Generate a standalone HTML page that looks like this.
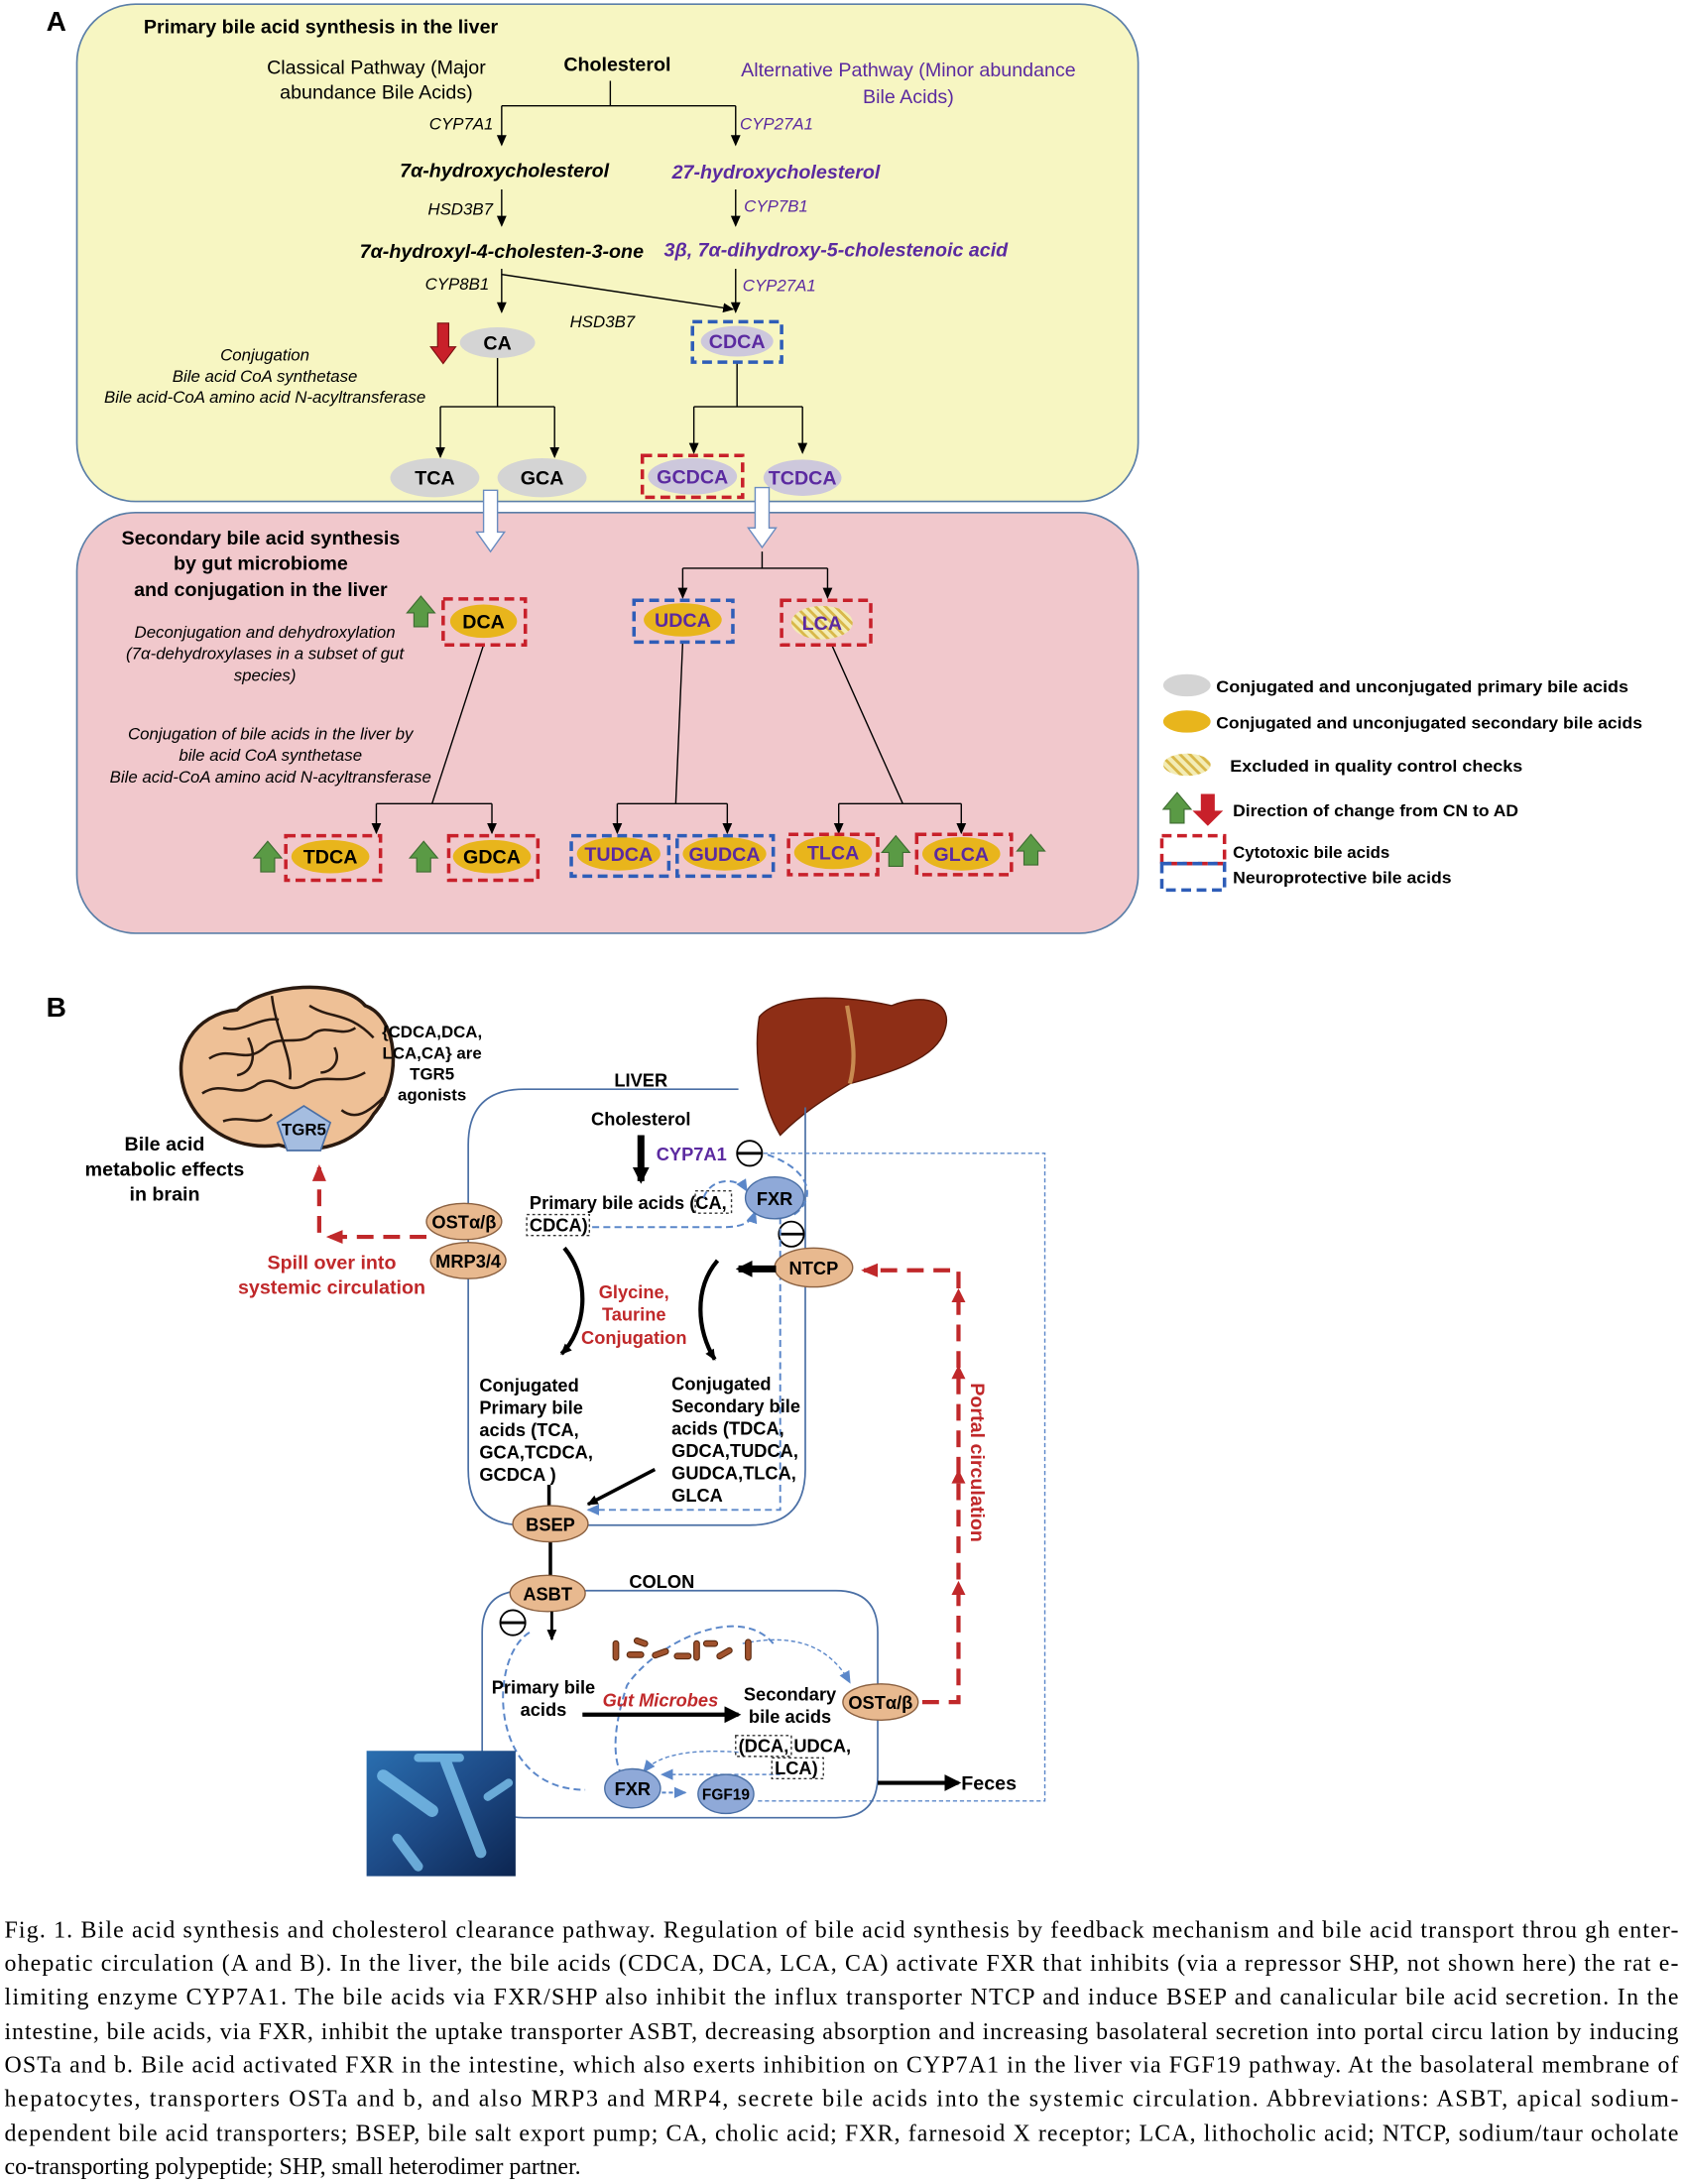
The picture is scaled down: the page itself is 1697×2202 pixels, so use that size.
<!DOCTYPE html>
<html><head><meta charset="utf-8"><style>
html,body{margin:0;padding:0;background:#fff}
svg{display:block}
text{font-family:"Liberation Sans",sans-serif}
.b{font-weight:bold}
.i{font-style:italic}
.p{fill:#5b2aa0}
.r{fill:#c0282a}
.cap text{font-family:"Liberation Serif",serif;font-size:17px}
</style></head><body>
<svg width="1697" height="2202" viewBox="0 0 1208 1568" xmlns="http://www.w3.org/2000/svg">
<defs>
<marker id="ah" markerWidth="8" markerHeight="8" refX="7" refY="4" orient="auto" markerUnits="userSpaceOnUse"><path d="M0,0.5 L8,4 L0,7.5z" fill="#000"/></marker>
<marker id="ahb" markerWidth="12" markerHeight="12" refX="10" refY="6" orient="auto" markerUnits="userSpaceOnUse"><path d="M0,0 L12,6 L0,12z" fill="#000"/></marker>
<marker id="ahr" markerWidth="12" markerHeight="12" refX="10" refY="6" orient="auto" markerUnits="userSpaceOnUse"><path d="M0,1 L12,6 L0,11z" fill="#c0282a"/></marker>
<marker id="ahl" markerWidth="9" markerHeight="9" refX="8" refY="4.5" orient="auto" markerUnits="userSpaceOnUse"><path d="M0,0.5 L9,4.5 L0,8.5z" fill="#5b87c9"/></marker>
<pattern id="hatch" width="5" height="5" patternUnits="userSpaceOnUse" patternTransform="rotate(-45)"><rect width="5" height="5" fill="#f3ecb5"/><rect width="2" height="5" fill="#d9b84a"/></pattern>
<g id="gup"><path d="M-5,10 L-5,0 L-10,0 L0,-12 L10,0 L5,0 L5,10z" fill="#5a9a45" stroke="#3d6b30" stroke-width="0.8"/></g>
<linearGradient id="bac" x1="0" y1="0" x2="1" y2="1"><stop offset="0" stop-color="#2a6fb0"/><stop offset="0.5" stop-color="#1d4a86"/><stop offset="1" stop-color="#0c2550"/></linearGradient>
</defs>

<!-- PANEL A -->
<text x="33" y="22" class="b" font-size="20">A</text>
<rect x="55" y="3" width="762" height="357" rx="42" fill="#f7f6c2" stroke="#5b7fa8" stroke-width="1.2"/>
<rect x="55" y="368" width="762" height="302" rx="42" fill="#f1c8cc" stroke="#5b7fa8" stroke-width="1.2"/>
<text x="103" y="24" class="b" font-size="14">Primary bile acid synthesis in the liver</text>
<g font-size="14" text-anchor="middle">
<text x="270" y="53">Classical Pathway (Major</text>
<text x="270" y="71">abundance Bile Acids)</text>
<text x="443" y="51" class="b">Cholesterol</text>
<text x="652" y="55" class="p">Alternative Pathway (Minor abundance</text>
<text x="652" y="74" class="p">Bile Acids)</text>
</g>
<g stroke="#000" stroke-width="1" fill="none">
<path d="M438,58 V76 M360,76 H528"/>
<path d="M360,76 V104" marker-end="url(#ah)"/><path d="M528,76 V104" marker-end="url(#ah)"/>
<path d="M360,136 V162" marker-end="url(#ah)"/><path d="M528,136 V162" marker-end="url(#ah)"/>
<path d="M360,193 V224" marker-end="url(#ah)"/><path d="M528,193 V224" marker-end="url(#ah)"/>
<path d="M360,197 L526,222" marker-end="url(#ah)"/>
<path d="M357,257 V292 M316,292 H398"/>
<path d="M316,292 V328" marker-end="url(#ah)"/><path d="M398,292 V328" marker-end="url(#ah)"/>
<path d="M529,260 V292 M498,292 H576"/>
<path d="M498,292 V325" marker-end="url(#ah)"/><path d="M576,292 V325" marker-end="url(#ah)"/>
</g>
<g font-size="12" class="i">
<text x="308" y="93">CYP7A1</text><text x="531" y="93" class="p">CYP27A1</text>
<text x="307" y="154">HSD3B7</text><text x="534" y="152" class="p">CYP7B1</text>
<text x="305" y="208">CYP8B1</text><text x="533" y="209" class="p">CYP27A1</text>
<text x="409" y="235">HSD3B7</text>
</g>
<g font-size="14" class="b i" text-anchor="middle">
<text x="362" y="127">7α-hydroxycholesterol</text>
<text x="557" y="128" class="p">27-hydroxycholesterol</text>
<text x="360" y="185">7α-hydroxyl-4-cholesten-3-one</text>
<text x="600" y="184" class="p">3β, 7α-dihydroxy-5-cholestenoic acid</text>
</g>
<g font-size="12" class="i" text-anchor="middle">
<text x="190" y="259">Conjugation</text>
<text x="190" y="274">Bile acid CoA synthetase</text>
<text x="190" y="289">Bile acid-CoA amino acid N-acyltransferase</text>
<text x="190" y="458">Deconjugation and dehydroxylation</text>
<text x="190" y="473">(7α-dehydroxylases in a subset of gut</text>
<text x="190" y="489">species)</text>
<text x="194" y="531">Conjugation of bile acids in the liver by</text>
<text x="194" y="546">bile acid CoA synthetase</text>
<text x="194" y="562">Bile acid-CoA amino acid N-acyltransferase</text>
</g>
<path d="M314,232 V249 H309 L318,261 L327,249 H322 V232z" fill="#c8202a" stroke="#7a1010" stroke-width="0.8"/>
<ellipse cx="357" cy="246" rx="27" ry="11" fill="#d4d4d4"/>
<text x="357" y="251" class="b" font-size="14" text-anchor="middle">CA</text>
<ellipse cx="529" cy="245" rx="26" ry="11" fill="#cdc8dc"/>
<rect x="497" y="231" width="64" height="29" fill="none" stroke="#2e5db8" stroke-width="2.5" stroke-dasharray="7,4"/>
<text x="529" y="250" class="b p" font-size="14" text-anchor="middle">CDCA</text>
<ellipse cx="312" cy="343" rx="32" ry="14" fill="#d4d4d4"/><text x="312" y="348" class="b" font-size="14" text-anchor="middle">TCA</text>
<ellipse cx="389" cy="343" rx="32" ry="14" fill="#d4d4d4"/><text x="389" y="348" class="b" font-size="14" text-anchor="middle">GCA</text>
<ellipse cx="497" cy="342" rx="32" ry="13" fill="#cdc8dc"/>
<rect x="461" y="327" width="72" height="30" fill="none" stroke="#c8202a" stroke-width="2.5" stroke-dasharray="7,4"/>
<text x="497" y="347" class="b p" font-size="14" text-anchor="middle">GCDCA</text>
<ellipse cx="576" cy="343" rx="28" ry="13" fill="#cdc8dc"/><text x="576" y="348" class="b p" font-size="14" text-anchor="middle">TCDCA</text>
<path d="M347,352 V382 H342 L352,396 L362,382 H357 V352z" fill="#fff" stroke="#6a8cc0" stroke-width="1"/>
<path d="M542,350 V379 H537 L547,393 L557,379 H552 V350z" fill="#fff" stroke="#6a8cc0" stroke-width="1"/>

<g font-size="14" class="b" text-anchor="middle">
<text x="187" y="391">Secondary bile acid synthesis</text>
<text x="187" y="409">by gut microbiome</text>
<text x="187" y="428">and conjugation in the liver</text>
</g>
<g stroke="#000" stroke-width="1" fill="none">
<path d="M547,396 V408 M490,408 H594"/>
<path d="M490,408 V429" marker-end="url(#ah)"/><path d="M594,408 V429" marker-end="url(#ah)"/>
<path d="M347,463 L310,577 M270,577 H353"/>
<path d="M270,577 V598" marker-end="url(#ah)"/><path d="M353,577 V598" marker-end="url(#ah)"/>
<path d="M490,461 L485,577 M443,577 H522"/>
<path d="M443,577 V598" marker-end="url(#ah)"/><path d="M522,577 V598" marker-end="url(#ah)"/>
<path d="M597,463 L648,577 M602,577 H690"/>
<path d="M602,577 V598" marker-end="url(#ah)"/><path d="M690,577 V598" marker-end="url(#ah)"/>
</g>
<g font-size="14" class="b" text-anchor="middle">
<use href="#gup" x="302" y="440"/>
<ellipse cx="347" cy="446" rx="24" ry="12" fill="#e8b51c"/>
<rect x="318" y="430" width="59" height="33" fill="none" stroke="#c8202a" stroke-width="2.5" stroke-dasharray="7,4"/>
<text x="347" y="451">DCA</text>
<ellipse cx="490" cy="445" rx="28" ry="12" fill="#e8b51c"/>
<rect x="455" y="431" width="71" height="30" fill="none" stroke="#2e5db8" stroke-width="2.5" stroke-dasharray="7,4"/>
<text x="490" y="450" class="p">UDCA</text>
<ellipse cx="590" cy="447" rx="22" ry="12" fill="url(#hatch)"/>
<rect x="561" y="431" width="64" height="32" fill="none" stroke="#c8202a" stroke-width="2.5" stroke-dasharray="7,4"/>
<text x="590" y="452" class="p">LCA</text>
<use href="#gup" x="192" y="616"/>
<ellipse cx="237" cy="615" rx="28" ry="12" fill="#e8b51c"/>
<rect x="205" y="600" width="68" height="32" fill="none" stroke="#c8202a" stroke-width="2.5" stroke-dasharray="7,4"/>
<text x="237" y="620">TDCA</text>
<use href="#gup" x="304" y="616"/>
<ellipse cx="353" cy="615" rx="28" ry="12" fill="#e8b51c"/>
<rect x="322" y="600" width="64" height="32" fill="none" stroke="#c8202a" stroke-width="2.5" stroke-dasharray="7,4"/>
<text x="353" y="620">GDCA</text>
<ellipse cx="444" cy="613" rx="30" ry="12" fill="#e8b51c"/>
<rect x="410" y="600" width="70" height="29" fill="none" stroke="#2e5db8" stroke-width="2.5" stroke-dasharray="7,4"/>
<text x="444" y="618" class="p">TUDCA</text>
<ellipse cx="520" cy="613" rx="30" ry="12" fill="#e8b51c"/>
<rect x="486" y="600" width="69" height="29" fill="none" stroke="#2e5db8" stroke-width="2.5" stroke-dasharray="7,4"/>
<text x="520" y="618" class="p">GUDCA</text>
<ellipse cx="598" cy="612" rx="28" ry="12" fill="#e8b51c"/>
<rect x="566" y="599" width="64" height="29" fill="none" stroke="#c8202a" stroke-width="2.5" stroke-dasharray="7,4"/>
<text x="598" y="617" class="p">TLCA</text>
<use href="#gup" x="643" y="612"/>
<ellipse cx="690" cy="613" rx="28" ry="12" fill="#e8b51c"/>
<rect x="658" y="599" width="68" height="29" fill="none" stroke="#c8202a" stroke-width="2.5" stroke-dasharray="7,4"/>
<text x="690" y="618" class="p">GLCA</text>
<use href="#gup" x="740" y="611"/>
</g>

<g font-size="12" class="b">
<ellipse cx="852" cy="492" rx="17" ry="8" fill="#d4d4d4"/>
<text x="873" y="497" textLength="296" lengthAdjust="spacingAndGlyphs">Conjugated  and unconjugated primary  bile acids</text>
<ellipse cx="852" cy="518" rx="17" ry="8" fill="#e8b51c"/>
<text x="873" y="523" textLength="306" lengthAdjust="spacingAndGlyphs">Conjugated and unconjugated secondary bile acids</text>
<ellipse cx="852" cy="549" rx="17" ry="8" fill="url(#hatch)"/>
<text x="883" y="554" textLength="210" lengthAdjust="spacingAndGlyphs">Excluded in quality control  checks</text>
<use href="#gup" x="845" y="581"/>
<path d="M862,570 V582 H856 L867,593 L878,582 H872 V570z" fill="#c8202a"/>
<text x="885" y="586" textLength="205" lengthAdjust="spacingAndGlyphs">Direction of change from CN to AD</text>
<rect x="834" y="600" width="45" height="20" fill="none" stroke="#c8202a" stroke-width="2.5" stroke-dasharray="7,4"/>
<rect x="834" y="620" width="45" height="19" fill="none" stroke="#2e5db8" stroke-width="2.5" stroke-dasharray="7,4"/>
<text x="885" y="616">Cytotoxic bile acids</text>
<text x="885" y="634" textLength="157" lengthAdjust="spacingAndGlyphs">Neuroprotective bile acids</text>
</g>

<!-- PANEL B -->
<text x="33" y="730" class="b" font-size="20">B</text>
<path d="M133,785 C122,755 140,728 170,725 C190,706 245,702 262,722 C285,730 290,775 268,800 C255,822 225,830 200,822 C175,826 145,815 133,785z" fill="#eec096" stroke="#2a1a10" stroke-width="2.5"/>
<g fill="none" stroke="#2a1a10" stroke-width="1.8">
<path d="M150,760 C165,750 175,765 190,752 C200,742 215,752 225,742 C235,735 245,745 255,738"/>
<path d="M145,785 C160,775 170,790 185,778 C200,770 205,788 220,778 C235,770 245,780 262,770"/>
<path d="M160,738 C175,742 185,730 200,732 M222,722 C238,732 250,726 268,745"/>
<path d="M160,805 C175,800 185,810 195,800 M245,797 C255,805 265,798 275,788"/>
<path d="M195,715 C198,740 210,760 208,775 M178,745 C185,760 180,770 170,772 M240,752 C245,762 238,770 230,770"/>
</g>
<path d="M218,794 L237,806 L230,826 L206,826 L199,806z" fill="#a5bde0" stroke="#4a6fa5" stroke-width="1.2"/>
<text x="218" y="815" class="b" font-size="12" text-anchor="middle">TGR5</text>
<g font-size="12" class="b" text-anchor="middle">
<text x="310" y="745">{CDCA,DCA,</text><text x="310" y="760">LCA,CA} are</text><text x="310" y="775">TGR5</text><text x="310" y="790">agonists</text>
</g>
<g font-size="14" class="b" text-anchor="middle">
<text x="118" y="826">Bile acid</text><text x="118" y="844">metabolic effects</text><text x="118" y="862">in brain</text>
</g>
<path d="M545,730 C560,712 610,715 640,722 C665,712 685,720 678,740 C672,760 640,770 610,778 C590,790 575,800 560,815 C548,795 540,760 545,730z" fill="#8e2e16" stroke="#5a1a0a" stroke-width="1"/>
<path d="M608,722 C612,745 615,760 610,778" stroke="#c88a50" stroke-width="3" fill="none"/>
<path d="M530,782 H376 Q336,782 336,822 V1055 Q336,1095 376,1095 H538 Q578,1095 578,1055 V795" fill="none" stroke="#4a6fa5" stroke-width="1.2"/>
<text x="460" y="780" class="b" font-size="13" text-anchor="middle">LIVER</text>
<text x="460" y="808" class="b" font-size="13" text-anchor="middle">Cholesterol</text>
<path d="M460,815 V848" stroke="#000" stroke-width="5" marker-end="url(#ahb)"/>
<text x="471" y="833" class="b p" font-size="13">CYP7A1</text>
<g fill="#fff" stroke="#000" stroke-width="1.3"><circle cx="538" cy="828" r="9"/><circle cx="568" cy="886" r="9"/><circle cx="368" cy="1165" r="9"/></g>
<path d="M529,828 H547 M559,886 H577 M359,1165 H377" stroke="#000" stroke-width="2"/>
<text x="380" y="868" class="b" font-size="13">Primary bile acids (CA,</text>
<rect x="499" y="855" width="26" height="16" fill="none" stroke="#333" stroke-dasharray="2,2"/>
<rect x="378" y="872" width="45" height="15" fill="none" stroke="#333" stroke-dasharray="2,2"/>
<text x="380" y="884" class="b" font-size="13">CDCA)</text>
<g fill="none" stroke="#5b87c9" stroke-width="1.4" stroke-dasharray="5,3">
<path d="M505,860 C510,845 530,845 536,855" marker-end="url(#ahl)"/>
<path d="M425,881 H520 C535,881 540,876 542,870" marker-end="url(#ahl)"/>
<path d="M560,874 V1084 H422" marker-end="url(#ahl)"/>
<path d="M570,872 C585,862 585,840 548,828"/>
<path d="M555,1180 C530,1150 470,1180 450,1210 C440,1240 440,1260 445,1272"/>
<path d="M380,1172 C350,1190 350,1285 420,1285"/>
</g>
<g fill="none" stroke="#5b87c9" stroke-width="1" stroke-dasharray="3,2">
<path d="M548,828 H750 V1293 H542"/>
<path d="M530,1258 C490,1255 470,1262 462,1272" marker-end="url(#ahl)"/>
<path d="M560,1274 H475" marker-end="url(#ahl)"/>
<path d="M533,1180 C580,1170 600,1190 610,1208" marker-end="url(#ahl)"/>
</g>
<ellipse cx="556" cy="860" rx="21" ry="15" fill="#8fa9d8" stroke="#4a6fa5"/>
<text x="556" y="865" class="b" font-size="13" text-anchor="middle">FXR</text>
<ellipse cx="584" cy="910" rx="28" ry="14" fill="#e8b98f" stroke="#8a6040"/>
<text x="584" y="915" class="b" font-size="13" text-anchor="middle">NTCP</text>
<ellipse cx="333" cy="877" rx="27" ry="13" fill="#e8b98f" stroke="#8a6040"/>
<text x="333" y="882" class="b" font-size="13" text-anchor="middle">OSTα/β</text>
<ellipse cx="336" cy="905" rx="27" ry="13" fill="#e8b98f" stroke="#8a6040"/>
<text x="336" y="910" class="b" font-size="13" text-anchor="middle">MRP3/4</text>
<g fill="none" stroke="#c0282a" stroke-width="3" stroke-dasharray="12,7">
<path d="M306,888 H236" marker-end="url(#ahr)"/>
<path d="M229,885 V838" marker-end="url(#ahr)"/>
<path d="M662,1222 H688 V912 H620" marker-end="url(#ahr)"/>
</g>
<g fill="#c0282a"><path d="M683,1145 L688,1135 L693,1145z"/><path d="M683,1065 L688,1055 L693,1065z"/><path d="M683,990 L688,980 L693,990z"/><path d="M683,935 L688,925 L693,935z"/></g>
<text transform="translate(697,1050) rotate(90)" class="b r" font-size="14" text-anchor="middle">Portal circulation</text>
<g class="b r" font-size="14" text-anchor="middle"><text x="238" y="911">Spill over into</text><text x="238" y="929">systemic circulation</text>
<text x="455" y="932" font-size="13">Glycine,</text><text x="455" y="948" font-size="13">Taurine</text><text x="455" y="965" font-size="13">Conjugation</text></g>
<g fill="none" stroke="#000" stroke-width="3">
<path d="M405,896 C425,920 420,955 403,972" marker-end="url(#ah)"/>
<path d="M515,905 C498,925 500,955 513,976" marker-end="url(#ah)"/>
</g>
<path d="M557,911 H530" stroke="#000" stroke-width="5" marker-end="url(#ahb)"/>
<g font-size="13" class="b">
<text x="344" y="999">Conjugated</text><text x="344" y="1015">Primary bile</text><text x="344" y="1031">acids (TCA,</text><text x="344" y="1047">GCA,TCDCA,</text><text x="344" y="1063">GCDCA )</text>
<text x="482" y="998">Conjugated</text><text x="482" y="1014">Secondary bile</text><text x="482" y="1030">acids (TDCA,</text><text x="482" y="1046">GDCA,TUDCA,</text><text x="482" y="1062">GUDCA,TLCA,</text><text x="482" y="1078">GLCA</text>
</g>
<path d="M394,1066 V1082 M395,1105 V1132" stroke="#000" stroke-width="2.5"/>
<path d="M470,1055 L422,1080" stroke="#000" stroke-width="2.5" marker-end="url(#ah)"/>
<ellipse cx="395" cy="1094" rx="27" ry="13" fill="#e8b98f" stroke="#8a6040"/>
<text x="395" y="1099" class="b" font-size="13" text-anchor="middle">BSEP</text>
<path d="M420,1142 H600 Q630,1142 630,1172 V1275 Q630,1305 600,1305 H376 Q346,1305 346,1275 V1172 Q346,1142 376,1142" fill="none" stroke="#4a6fa5" stroke-width="1.2"/>
<ellipse cx="393" cy="1144" rx="27" ry="13" fill="#e8b98f" stroke="#8a6040"/>
<text x="393" y="1149" class="b" font-size="13" text-anchor="middle">ASBT</text>
<text x="475" y="1140" class="b" font-size="13" text-anchor="middle">COLON</text>
<path d="M396,1157 V1177" stroke="#000" stroke-width="2" marker-end="url(#ah)"/>
<g fill="#a0522d" stroke="#5a2a10" stroke-width="0.8">
<rect x="440" y="1178" width="4" height="14" rx="2"/><rect x="450" y="1186" width="12" height="4" rx="2"/><rect x="455" y="1177" width="10" height="4" rx="2" transform="rotate(20 460 1179)"/><rect x="468" y="1185" width="12" height="4" rx="2" transform="rotate(-20 474 1187)"/><rect x="484" y="1187" width="12" height="4" rx="2"/><rect x="498" y="1178" width="4" height="14" rx="2"/><rect x="505" y="1178" width="10" height="4" rx="2"/><rect x="514" y="1185" width="12" height="4" rx="2" transform="rotate(-30 520 1187)"/><rect x="535" y="1177" width="4" height="15" rx="2"/>
</g>
<g font-size="13" class="b" text-anchor="middle"><text x="390" y="1216">Primary bile</text><text x="390" y="1232">acids</text>
<text x="567" y="1221">Secondary</text><text x="567" y="1237">bile acids</text></g>
<text x="474" y="1225" class="b i r" font-size="13" text-anchor="middle">Gut Microbes</text>
<path d="M418,1231 H530" stroke="#000" stroke-width="3" marker-end="url(#ahb)"/>
<ellipse cx="632" cy="1222" rx="27" ry="13" fill="#e8b98f" stroke="#8a6040"/>
<text x="632" y="1227" class="b" font-size="13" text-anchor="middle">OSTα/β</text>
<rect x="528" y="1246" width="40" height="15" fill="none" stroke="#333" stroke-dasharray="2,2"/>
<rect x="554" y="1262" width="37" height="15" fill="none" stroke="#333" stroke-dasharray="2,2"/>
<g font-size="13" class="b"><text x="530" y="1258">(DCA, UDCA,</text><text x="556" y="1274">LCA)</text></g>
<ellipse cx="454" cy="1284" rx="20" ry="14" fill="#8fa9d8" stroke="#4a6fa5"/>
<text x="454" y="1289" class="b" font-size="13" text-anchor="middle">FXR</text>
<path d="M475,1287 H492" stroke="#5b87c9" stroke-width="1.5" stroke-dasharray="3,2" marker-end="url(#ahl)"/>
<ellipse cx="521" cy="1288" rx="20" ry="14" fill="#8fa9d8" stroke="#4a6fa5"/>
<text x="521" y="1292" class="b" font-size="11" text-anchor="middle">FGF19</text>
<path d="M630,1280 H688" stroke="#000" stroke-width="3" marker-end="url(#ahb)"/>
<text x="690" y="1285" class="b" font-size="14">Feces</text>
<rect x="263" y="1257" width="107" height="90" fill="url(#bac)"/>
<g stroke="#7ec4ef" stroke-linecap="round" opacity="0.8"><path d="M275,1275 L310,1300" stroke-width="9"/><path d="M320,1265 L345,1330" stroke-width="8"/><path d="M285,1320 L300,1340" stroke-width="7"/><path d="M350,1290 L365,1280" stroke-width="6"/><path d="M300,1262 L330,1262" stroke-width="6"/></g>

<g class="cap">
<text x="3" y="1391" textLength="1202" lengthAdjust="spacing">Fig. 1.  Bile acid synthesis and cholesterol clearance pathway. Regulation of bile acid synthesis by feedback mechanism and bile acid transport throu gh enter-</text>
<text x="3" y="1415" textLength="1202" lengthAdjust="spacing">ohepatic circulation (A and B). In the liver, the bile acids (CDCA, DCA, LCA, CA) activate FXR that inhibits (via a repressor SHP, not shown here) the rat e-</text>
<text x="3" y="1439" textLength="1202" lengthAdjust="spacing">limiting enzyme CYP7A1. The bile acids via FXR/SHP also inhibit the influx transporter NTCP and induce BSEP and canalicular bile acid secretion. In the</text>
<text x="3" y="1464" textLength="1202" lengthAdjust="spacing">intestine, bile acids, via FXR, inhibit the uptake transporter ASBT, decreasing absorption and increasing basolateral secretion into portal circu lation by inducing</text>
<text x="3" y="1488" textLength="1202" lengthAdjust="spacing">OSTa and b. Bile acid activated FXR in the intestine, which also exerts inhibition on CYP7A1 in the liver via FGF19 pathway. At the basolateral membrane of</text>
<text x="3" y="1512" textLength="1202" lengthAdjust="spacing">hepatocytes, transporters OSTa  and  b, and also MRP3 and MRP4, secrete bile acids into the systemic circulation. Abbreviations: ASBT, apical sodium-</text>
<text x="3" y="1537" textLength="1202" lengthAdjust="spacing">dependent bile acid transporters; BSEP, bile salt export pump; CA, cholic acid; FXR, farnesoid X receptor; LCA, lithocholic acid; NTCP, sodium/taur ocholate</text>
<text x="3" y="1561">co-transporting polypeptide; SHP, small heterodimer partner.</text>
</g>
</svg>
</body></html>
